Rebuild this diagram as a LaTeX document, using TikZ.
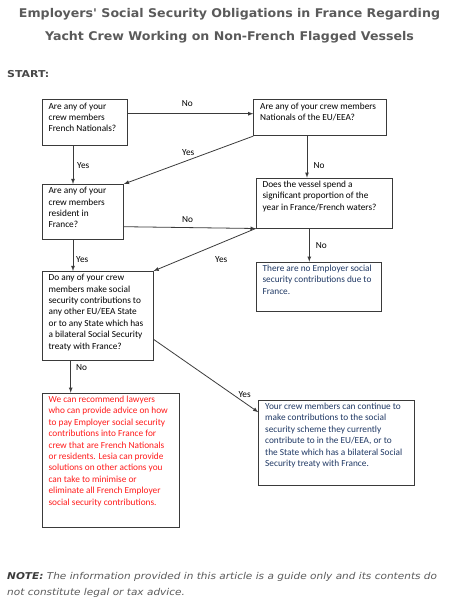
\documentclass[tikz,border=0pt]{standalone}
\usepackage{fontspec}
\setmainfont{Carlito}
\newfontfamily\verdana{DejaVu Sans}
\usepackage{xcolor}
\usepackage{tikz}

\definecolor{titlegray}{HTML}{5A5A5A}
\definecolor{linegray}{HTML}{3A3A3A}
\definecolor{navy}{HTML}{1F3864}
\definecolor{warnred}{HTML}{FF1A1A}

% box text: width, height, lines
\newcommand{\boxtxt}[3]{\parbox[t][#2][t]{#1}{#3}}

\tikzset{
  qbox/.style={draw=linegray, line width=0.8pt, anchor=north west, inner xsep=6.5pt, inner ysep=3pt, font=\fontsize{9.3}{11.4}\selectfont},
  ans/.style={anchor=west, inner sep=0pt, font=\fontsize{9.3}{11}\selectfont},
  link/.style={draw=linegray, line width=0.8pt, ->}
}

\begin{document}
\begin{tikzpicture}[x=1pt, y=-1pt, >=latex]
\useasboundingbox (0,0) rectangle (449,600);

\node[text=titlegray, font=\verdana\bfseries\fontsize{12}{14}\selectfont] (title1) at (229.5,14) {\scalebox{1.05}[1]{Employers' Social Security Obligations in France Regarding}};
\node[text=titlegray, font=\verdana\bfseries\fontsize{12}{14}\selectfont] (title2) at (229.5,37) {\scalebox{1.05}[1]{Yacht Crew Working on Non-French Flagged Vessels}};
\node[anchor=west, inner sep=0pt, text=titlegray!80!black, font=\verdana\bfseries\fontsize{9.5}{11}\selectfont] (start) at (7,74) {\scalebox{1.15}[1]{START:}};

\node[qbox] (b1) at (41.7,99.3) {\boxtxt{72.6pt}{40pt}{Are any of your\\crew members\\French Nationals?}};
\node[qbox] (b2) at (253.3,99.3) {\boxtxt{119.7pt}{30pt}{Are any of your crew members\\Nationals of the EU/EEA?}};
\node[qbox] (b3) at (41.7,184) {\boxtxt{68.3pt}{48.7pt}{Are any of your\\crew members\\resident in\\France?}};
\node[qbox] (b4) at (255.7,177.7) {\boxtxt{123pt}{44pt}{Does the vessel spend a\\significant proportion of the\\year in France/French waters?}};
\node[qbox] (b5) at (41.7,271) {\boxtxt{98pt}{83.3pt}{Do any of your crew\\members make social\\security contributions to\\any other EU/EEA State\\or to any State which has\\a bilateral Social Security\\treaty with France?}};
\node[qbox, text=navy] (b6) at (255.7,261.7) {\boxtxt{112pt}{43.6pt}{There are no Employer social\\security contributions due to\\France.}};
\node[qbox, text=warnred] (b7) at (41.7,392.7) {\boxtxt{124.6pt}{128.3pt}{We can recommend lawyers\\who can provide advice on how\\to pay Employer social security\\contributions into France for\\crew that are French Nationals\\or residents. Lesia can provide\\solutions on other actions you\\can take to minimise or\\eliminate all French Employer\\social security contributions.}};
\node[qbox, text=navy] (b8) at (258.3,399.7) {\boxtxt{142.7pt}{79.6pt}{Your crew members can continue to\\make contributions to the social\\security scheme they currently\\contribute to in the EU/EEA, or to\\the State which has a bilateral Social\\Security treaty with France.}};

% connectors
\draw[link] ([yshift=-14.4pt]b1.north east) -- ([yshift=-14.4pt]b2.north west);
\draw[link] ([xshift=31.3pt]b1.south west) -- ([xshift=31.3pt]b3.north west);
\draw[link] (b2.south west) -- (b3.north east);
\draw[link] ([xshift=53.7pt]b2.south west) -- ([xshift=51.3pt]b4.north west);
\draw[link] ([yshift=-42.7pt]b3.north east) -- (b4.south west);
\draw[link] ([xshift=31.3pt]b3.south west) -- ([xshift=31.3pt]b5.north west);
\draw[link] (b4.south west) -- (b5.north east);
\draw[link] ([xshift=53.6pt]b4.south west) -- ([xshift=53.6pt]b6.north west);
\draw[link] ([xshift=29pt]b5.south west) -- ([xshift=29pt]b7.north west);
\draw[link] ([yshift=-68.3pt]b5.north east) -- ([yshift=-12.5pt]b8.north west);

% answers
\node[ans] (no1) at (181.7,103.3) {No};
\node[ans] (yes1) at (77,165.3) {Yes};
\node[ans] (yes2) at (182,152.3) {Yes};
\node[ans] (no2) at (313.3,165.3) {No};
\node[ans] (no3) at (182,219.3) {No};
\node[ans] (no4) at (315.7,246) {No};
\node[ans] (yes3) at (76,260) {Yes};
\node[ans] (yes4) at (215,260) {Yes};
\node[ans] (no5) at (76,367.3) {No};
\node[ans] (yes5) at (238.3,394.7) {Yes};

\node[anchor=west, align=left, inner sep=0pt, text=titlegray, font=\verdana\itshape\fontsize{9.4}{16.6}\selectfont] (note) at (7,585) {\scalebox{1.12}[1]{\textcolor{linegray}{\bfseries NOTE:} The information provided in this article is a guide only and its contents do}\\\scalebox{1.12}[1]{not constitute legal or tax advice.}};
\end{tikzpicture}
\end{document}
